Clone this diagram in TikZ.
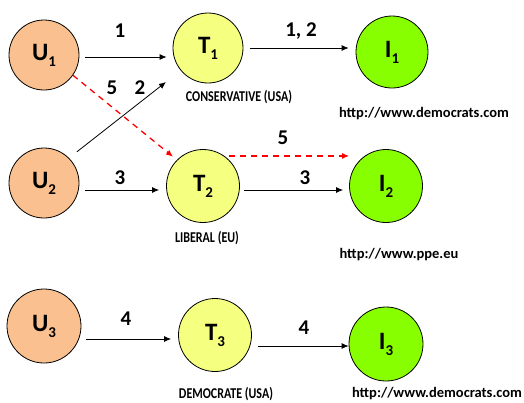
\documentclass[tikz,border=0pt]{standalone}
\usepackage{fontspec}
\setmainfont{Carlito}
\usepackage{graphicx}
\usetikzlibrary{arrows.meta}

\definecolor{userc}{RGB}{250,192,143}
\definecolor{partyc}{RGB}{245,255,128}
\definecolor{sitec}{RGB}{136,255,0}

\newcommand{\circlab}[2]{{\fontsize{25}{25}\selectfont\bfseries #1\raisebox{-0.5ex}{\fontsize{15}{15}\selectfont #2}}}
\newcommand{\numlab}{\fontsize{21}{21}\selectfont\bfseries}
\newcommand{\partylab}{\fontsize{15}{15}\selectfont\bfseries}
\newcommand{\urllab}{\fontsize{14.5}{14.5}\selectfont\bfseries}

\tikzset{
  bubble/.style={circle, draw, thick, minimum size=70pt, inner sep=0pt},
  user/.style={bubble, fill=userc},
  party/.style={bubble, fill=partyc},
  site/.style={bubble, fill=sitec},
  arr/.style={thick, -{Latex[length=7pt,width=6pt]}},
  redarr/.style={line width=1.3pt, red, dash pattern=on 6pt off 5pt, -{Latex[length=7pt,width=6pt]}}
}

\begin{document}
\begin{tikzpicture}[x=1pt, y=-1pt]
\useasboundingbox (0,0) rectangle (524,402);

% users
\node[user] (u1) at (44,55) {\circlab{U}{1}};
\node[user] (u2) at (44,183) {\circlab{U}{2}};
\node[user, minimum size=74pt] (u3) at (44,326) {\circlab{U}{3}};

% parties
\node[party] (t1) at (208,48) {\circlab{T}{1}};
\node[party, minimum size=73pt] (t2) at (203,186) {\circlab{T}{2}};
\node[party, minimum size=73pt] (t3) at (215,335) {\circlab{T}{3}};

% web sites
\node[site, minimum size=72pt] (i1) at (392,52) {\circlab{I}{1}};
\node[site, minimum size=73pt] (i2) at (386,186) {\circlab{I}{2}};
\node[site, minimum size=74pt] (i3) at (386,344) {\circlab{I}{3}};

% solid links
\draw[arr, shorten <=6pt, shorten >=6pt] ([yshift=-2pt]u1.east) -- ([yshift=-2pt]u1.east -| t1.west);
\draw[arr, shorten <=7pt, shorten >=7pt] (t1.east) -- (t1.east -| i1.west);
\draw[arr, shorten <=10pt] (u2.45) -- ([xshift=-17pt, yshift=-9pt]t1.south west);
\draw[arr, shorten <=6pt, shorten >=7pt] ([yshift=-4pt]t2.west -| u2.east) -- ([yshift=-4pt]t2.west);
\draw[arr, shorten <=4pt, shorten >=6pt] ([yshift=-4pt]t2.east) -- ([yshift=-4pt]t2.east -| i2.west);
\draw[arr, shorten <=5pt, shorten >=7pt] ([yshift=-4pt]t3.west -| u3.east) -- ([yshift=-4pt]t3.west);
\draw[arr, shorten <=6pt] ([yshift=-2pt]i3.west -| t3.east) -- ([yshift=-2pt]i3.west);

% dashed links
\draw[redarr, shorten >=5pt] (u1.-35) -- (t2.135);
\draw[redarr] ([yshift=4pt]t2.north east) -- ([yshift=4pt]t2.north east -| i2.west);

% link numbers
\node (n1) at (120,31) {\numlab 1};
\node (n12) at (301,31) {\numlab 1, 2};
\node (n5a) at (112,88) {\numlab 5};
\node (n2) at (140,88) {\numlab 2};
\node (n3a) at (120,178) {\numlab 3};
\node (n5b) at (283,138) {\numlab 5};
\node (n3b) at (305,178) {\numlab 3};
\node (n4a) at (126,319) {\numlab 4};
\node (n4b) at (304,328) {\numlab 4};

% party names
\node (p1) at (239,97) {\partylab\scalebox{0.8}[1]{CONSERVATIVE (USA)}};
\node (p2) at (207,238) {\partylab\scalebox{0.8}[1]{LIBERAL (EU)}};
\node (p3) at (226,394) {\partylab\scalebox{0.8}[1]{DEMOCRATE (USA)}};

% addresses
\node (w1) at (424,114) {\urllab http://www.democrats.com};
\node (w2) at (399,255) {\urllab http://www.ppe.eu};
\node (w3) at (437,394) {\urllab http://www.democrats.com};

\end{tikzpicture}
\end{document}
